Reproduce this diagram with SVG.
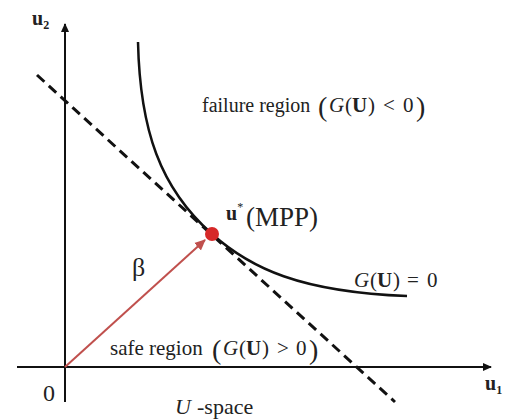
<svg xmlns="http://www.w3.org/2000/svg" width="508" height="419" viewBox="0 0 508 419">
<style>
.t{font-family:"Liberation Serif","Times New Roman",serif;fill:#222}
.ax{stroke:#111;stroke-width:2;fill:none}
.bp{font-size:28px}
</style>
<defs>
<marker id="ah" markerWidth="10" markerHeight="10" refX="8" refY="5" orient="auto" markerUnits="userSpaceOnUse">
<path d="M0,1 L9,5 L0,9 Z" fill="#111"/>
</marker>
<marker id="rh" markerWidth="12" markerHeight="12" refX="10" refY="6" orient="auto" markerUnits="userSpaceOnUse">
<path d="M0,1 L11,6 L0,11 Z" fill="#c0504d"/>
</marker>
</defs>
<g id="connectors">
<line id="axis-u1" class="ax" x1="17" y1="367" x2="491" y2="367" marker-end="url(#ah)"/>
<line id="axis-u2" class="ax" x1="65" y1="402" x2="65" y2="24" marker-end="url(#ah)"/>
<line id="tangent" x1="37" y1="75" x2="395" y2="402" stroke="#111" stroke-width="3" stroke-dasharray="10 6"/>
<path id="limit-state" d="M138,42 C140,130 160,188 212,234 C250,268 300,292 407,296" fill="none" stroke="#111" stroke-width="2.5"/>
<line id="beta-vector" x1="65" y1="367" x2="205" y2="240" stroke="#c0504d" stroke-width="2" marker-end="url(#rh)"/>
</g>
<g id="mpp">
<circle cx="212" cy="234" r="7" fill="#d62828"/>
<text class="t" x="226" y="220" font-size="20" font-weight="bold">u<tspan font-size="12" dy="-9" font-weight="normal">*</tspan></text>
<text class="t" x="246" y="226" font-size="27">(MPP)</text>
</g>
<g id="labels">
<text class="t" x="32" y="25" font-size="20" font-weight="bold">u<tspan font-size="12" dy="4">2</tspan></text>
<text class="t" x="485" y="390" font-size="20" font-weight="bold">u<tspan font-size="12" dy="4">1</tspan></text>
<text class="t" x="43" y="401" font-size="24">0</text>
<text class="t" x="132" y="276" font-size="26">β</text>
<text class="t" y="112" font-size="21"><tspan x="202" font-size="20">failure region</tspan><tspan class="bp" x="318" y="116">(</tspan><tspan x="329" y="112" font-style="italic">G</tspan><tspan x="345">(</tspan><tspan x="352" font-weight="bold">U</tspan><tspan x="368">)</tspan><tspan x="383">&lt;</tspan><tspan x="403">0</tspan><tspan class="bp" x="416" y="116">)</tspan></text>
<text class="t" y="287" font-size="21"><tspan x="354" font-style="italic">G</tspan><tspan x="370">(</tspan><tspan x="377" font-weight="bold">U</tspan><tspan x="393">)</tspan><tspan x="407">=</tspan><tspan x="427">0</tspan></text>
<text class="t" y="355" font-size="21"><tspan x="110">safe region</tspan><tspan class="bp" x="212" y="359">(</tspan><tspan x="223" y="355" font-style="italic">G</tspan><tspan x="239">(</tspan><tspan x="246" font-weight="bold">U</tspan><tspan x="262">)</tspan><tspan x="277">&gt;</tspan><tspan x="296">0</tspan><tspan class="bp" x="309" y="359">)</tspan></text>
<text class="t" y="414" font-size="22"><tspan x="175" font-style="italic">U</tspan><tspan x="197">-space</tspan></text>
</g>
</svg>
